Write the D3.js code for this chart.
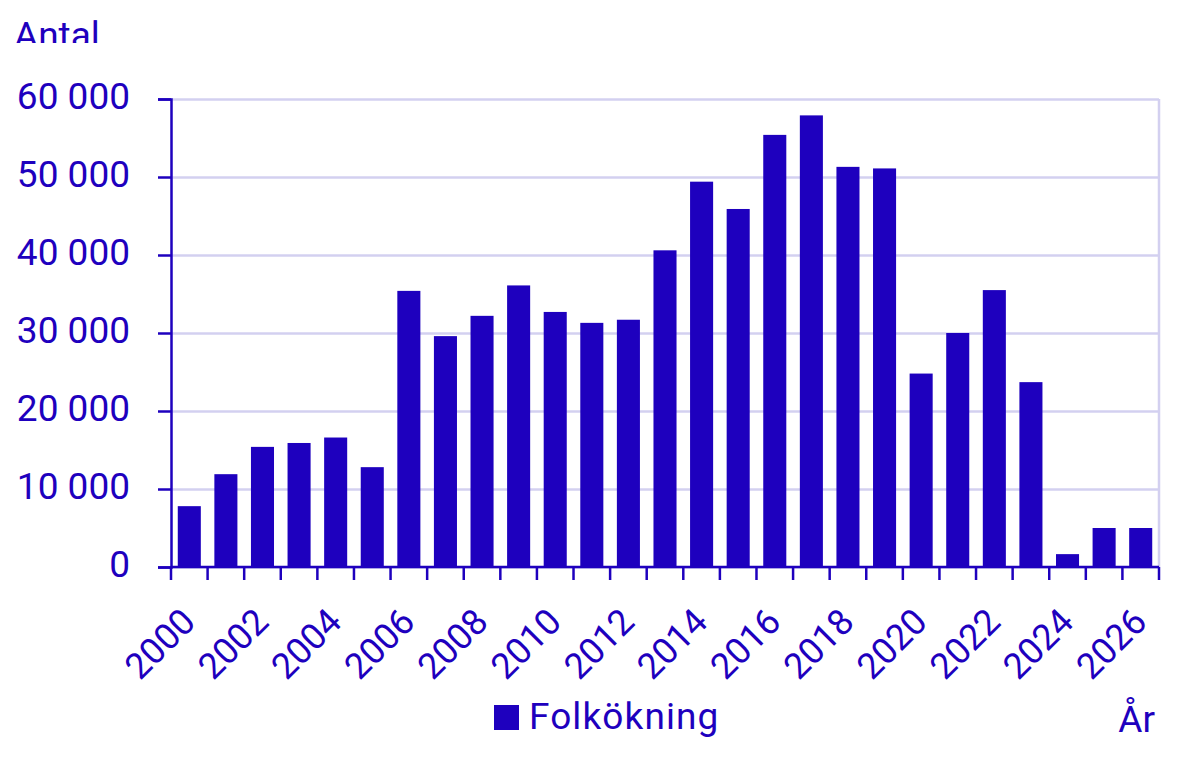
<!DOCTYPE html>
<html>
<head>
<meta charset="utf-8">
<script src="https://cdn.jsdelivr.net/npm/d3@7"></script>
<style>
  body { margin: 0; background: #fff; }
  svg text { font-family: "Roboto", sans-serif; }
</style>
</head>
<body>
<div id="chart"></div>
<script>
// Folkökning per år
const years = d3.range(2000, 2027).map(String);
const values = [
  7800, 11900, 15400, 15900, 16600, 12800, 35400, 29600, 32200, 36100,
  32700, 31300, 31700, 40600, 49400, 45900, 55400, 57900, 51300, 51100,
  24800, 30000, 35500, 23700, 1650, 5000, 5000
];
const yTicks = [0, 10000, 20000, 30000, 40000, 50000, 60000];
const xLabels = years.filter((d, i) => i % 2 === 0);
const seriesName = 'Folkökning';

const color = '#1e00be';
const gridColor = '#d3d0f0';

const W = 1200, H = 778;
const margin = { top: 99, right: 41, bottom: 211, left: 171 };
const width = W - margin.left - margin.right;
const height = H - margin.top - margin.bottom;

const svg = d3.select('#chart').append('svg')
  .attr('width', W)
  .attr('height', H);

// title, cut off at the bottom like the original
svg.append('clipPath').attr('id', 'titleclip')
  .append('rect').attr('x', 0).attr('y', 0).attr('width', 300).attr('height', 43);

svg.append('text')
  .attr('clip-path', 'url(#titleclip)')
  .attr('x', 14)
  .attr('y', 48)
  .attr('fill', color)
  .style('font-size', '37px')
  .text('Antal');

const g = svg.append('g')
  .attr('transform', `translate(${margin.left},${margin.top})`);

const x = d3.scaleBand()
  .domain(years)
  .range([0, width])
  .paddingInner(0.37)
  .paddingOuter(0.185);

const y = d3.scaleLinear()
  .domain([0, 60000])
  .range([height, 0]);

// gridlines
g.append('g')
  .call(d3.axisLeft(y).tickValues(yTicks).tickSize(-width).tickFormat(''))
  .call(a => a.select('.domain').remove())
  .selectAll('line')
  .attr('stroke', gridColor)
  .attr('stroke-width', 2.5);

g.append('line')
  .attr('x1', width).attr('x2', width)
  .attr('y1', 0).attr('y2', height)
  .attr('stroke', gridColor)
  .attr('stroke-width', 2.5);

// bars
g.selectAll('rect.bar')
  .data(values)
  .join('rect')
  .attr('class', 'bar')
  .attr('x', (d, i) => x(years[i]))
  .attr('width', x.bandwidth())
  .attr('y', d => y(d))
  .attr('height', d => y(0) - y(d))
  .attr('fill', color);

// y axis
const fmt = d => d3.format(',')(d).replace(/,/g, ' ');
const yAxis = g.append('g')
  .call(d3.axisLeft(y).tickValues(yTicks).tickSize(13).tickPadding(28).tickFormat(fmt))
  .attr('font-family', null);
yAxis.select('.domain').attr('stroke', color).attr('stroke-width', 2.5);
yAxis.selectAll('line').attr('stroke', color).attr('stroke-width', 2.5);
yAxis.selectAll('text')
  .attr('fill', color)
  .attr('dy', '0.25em')
  .style('font-size', '37px');

// x axis: line + ticks at category boundaries
const xAxis = g.append('g').attr('transform', `translate(0,${height})`);
xAxis.append('line')
  .attr('x1', 0).attr('x2', width)
  .attr('stroke', color).attr('stroke-width', 2.5);

xAxis.selectAll('line.tick')
  .data(d3.range(years.length + 1))
  .join('line')
  .attr('class', 'tick')
  .attr('x1', i => i * x.step())
  .attr('x2', i => i * x.step())
  .attr('y1', 0).attr('y2', 13)
  .attr('stroke', color)
  .attr('stroke-width', 2.5);

xAxis.selectAll('text')
  .data(xLabels)
  .join('text')
  .attr('text-anchor', 'end')
  .attr('transform', d => `translate(${x(d) + x.bandwidth() / 2 + 8},${57}) rotate(-45)`)
  .attr('fill', color)
  .style('font-size', '36px')
  .text(d => d);

// legend
const legend = svg.append('g').attr('transform', 'translate(494,705)');
legend.append('rect')
  .attr('width', 25).attr('height', 25)
  .attr('fill', color);
legend.append('text')
  .attr('x', 35)
  .attr('y', 24)
  .attr('fill', color)
  .style('font-size', '37px')
  .style('letter-spacing', '1.1px')
  .text(seriesName);

svg.append('text')
  .attr('x', 1155)
  .attr('y', 732)
  .attr('text-anchor', 'end')
  .attr('fill', color)
  .style('font-size', '37px')
  .text('År');
</script>
</body>
</html>
